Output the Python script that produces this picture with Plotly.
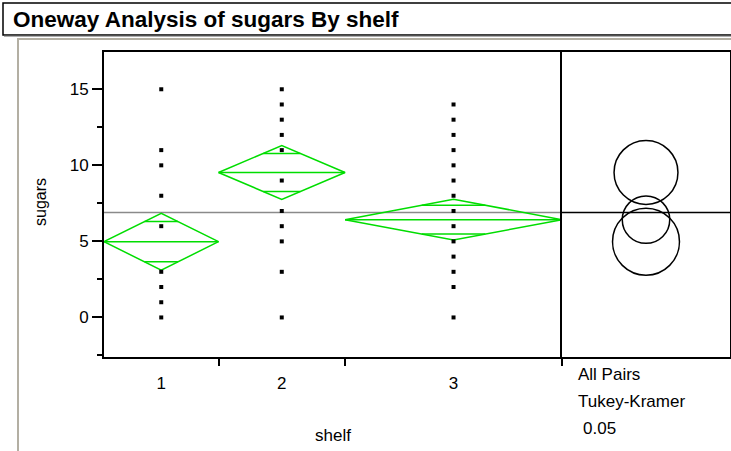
import numpy as np
import plotly.graph_objects as go

# ---- data -------------------------------------------------------------
shelves = ["1", "2", "3"]
n_per_shelf = [19, 21, 36]                      # group sizes set the x widths
sugars_shelf1 = [0, 1, 2, 3, 6, 8, 10, 11, 15]
sugars_shelf2 = [0, 3, 5, 6, 7, 9, 11, 12, 13, 14, 15]
sugars_shelf3 = [0, 2, 3, 4, 5, 6, 7, 8, 9, 10, 11, 12, 13, 14]
group_means = [4.98, 9.53, 6.43]
ci_half_width = [1.87, 1.77, 1.34]              # 95% mean diamonds
tukey_radius = [2.2, 2.1, 1.56]                 # comparison circles
grand_mean = 6.9
y_ticks = [0, 5, 10, 15]
y_minor_ticks = [-2.5, 2.5, 7.5, 12.5]
y_range = [-2.6, 17.45]
circle_notes = ["All Pairs", "Tukey-Kramer", "0.05"]

# ---- page geometry (pixels) -------------------------------------------
W, H = 731, 451
PLOT_L, PLOT_R, PANEL_R = 104, 562, 730
PLOT_T, PLOT_B = 52, 357
FONT = "Liberation Sans, Arial, sans-serif"
GREEN = "#00dd00"


def px_x(x):
    return x / W


def px_y(y):
    return 1 - y / H


bounds = np.concatenate([[0], np.cumsum(n_per_shelf)])
centers = (bounds[:-1] + bounds[1:]) / 2
n_total = bounds[-1]
units_per_px = (y_range[1] - y_range[0]) / (PLOT_B - PLOT_T)
panel_w_units = (PANEL_R - PLOT_R) * units_per_px

fig = go.Figure()

# grand mean reference line
fig.add_trace(go.Scatter(x=[0, n_total], y=[grand_mean, grand_mean], mode="lines",
                         line=dict(color="#8a8a8a", width=1.5), hoverinfo="skip",
                         showlegend=False))

# mean diamonds with overlap marks
for i, (m, h) in enumerate(zip(group_means, ci_half_width)):
    b0, b1, c = bounds[i], bounds[i + 1], centers[i]
    half = (b1 - b0) / 2
    d = h / np.sqrt(2)
    chord = half * (1 - d / h)
    xs = [b0, c, b1, c, b0, None, b0, b1, None,
          c - chord, c + chord, None, c - chord, c + chord]
    ys = [m, m + h, m, m - h, m, None, m, m, None,
          m + d, m + d, None, m - d, m - d]
    fig.add_trace(go.Scatter(x=xs, y=ys, mode="lines",
                             line=dict(color=GREEN, width=1.5),
                             hoverinfo="skip", showlegend=False))

# raw points
for i, vals in enumerate([sugars_shelf1, sugars_shelf2, sugars_shelf3]):
    fig.add_trace(go.Scatter(x=[centers[i]] * len(vals), y=vals, mode="markers",
                             marker=dict(symbol="square", size=4, color="black"),
                             showlegend=False, name=f"shelf {shelves[i]}"))

# axis carrying the group boundary ticks
fig.add_trace(go.Scatter(x=[None], y=[None], xaxis="x3", yaxis="y",
                         showlegend=False, hoverinfo="skip"))
# comparison-circle panel
fig.add_trace(go.Scatter(x=[None], y=[None], xaxis="x2", yaxis="y2",
                         showlegend=False, hoverinfo="skip"))

shapes = []
cx = panel_w_units / 2
for m, r in zip(group_means, tukey_radius):
    shapes.append(dict(type="circle", xref="x2", yref="y2",
                       x0=cx - r, x1=cx + r, y0=m - r, y1=m + r,
                       line=dict(color="black", width=1.5)))
shapes.append(dict(type="line", xref="x2 domain", yref="y2", x0=0, x1=1,
                   y0=grand_mean, y1=grand_mean,
                   line=dict(color="black", width=1.5)))

# report frame: title box and outline bracket
shapes.append(dict(type="rect", xref="paper", yref="paper",
                   x0=px_x(3), x1=px_x(745), y0=px_y(35), y1=px_y(3),
                   line=dict(color="black", width=1.5)))
shapes.append(dict(type="line", xref="paper", yref="paper",
                   x0=px_x(4), x1=px_x(745), y0=px_y(36.3), y1=px_y(36.3),
                   line=dict(color="#9a9a9a", width=1)))
shapes.append(dict(type="path", xref="paper", yref="paper",
                   path=f"M {px_x(18)} {px_y(455)} L {px_x(18)} {px_y(39)} "
                        f"L {px_x(745)} {px_y(39)}",
                   line=dict(color="#b3afa3", width=2)))

annotations = [
    dict(text="<b>Oneway Analysis of sugars By shelf</b>", x=px_x(11),
         y=px_y(19.5), xref="paper", yref="paper", xanchor="left",
         yanchor="middle", showarrow=False,
         font=dict(family=FONT, size=22.5, color="black")),
    dict(text="sugars", x=px_x(40), y=px_y(202), xref="paper", yref="paper",
         textangle=-90, showarrow=False, xanchor="center", yanchor="middle",
         font=dict(family=FONT, size=16, color="black")),
    dict(text="shelf", x=px_x(333), y=px_y(435), xref="paper", yref="paper",
         showarrow=False, xanchor="center", yanchor="middle",
         font=dict(family=FONT, size=17, color="black")),
]
for txt, xx, yy in zip(circle_notes, [576, 576, 581], [374, 401.5, 428]):
    annotations.append(dict(text=txt, x=px_x(xx), y=px_y(yy), xref="paper",
                            yref="paper", xanchor="left", yanchor="middle",
                            showarrow=False,
                            font=dict(family=FONT, size=17, color="black")))

fig.update_layout(
    width=W, height=H, margin=dict(l=0, r=0, t=0, b=0),
    paper_bgcolor="white", plot_bgcolor="white",
    font=dict(family=FONT, color="black"),
    xaxis=dict(domain=[px_x(PLOT_L), px_x(PLOT_R)], range=[0, n_total],
               anchor="y", tickmode="array", tickvals=centers.tolist(),
               ticktext=shelves, ticks="outside", ticklen=10,
               tickcolor="rgba(0,0,0,0)", showline=True, mirror=True,
               linecolor="black", linewidth=2, showgrid=False, zeroline=False,
               tickfont=dict(size=17), automargin=False, fixedrange=True),
    xaxis3=dict(overlaying="x", anchor="y", range=[0, n_total],
                tickmode="array", tickvals=bounds[1:].tolist(), ticks="outside",
                ticklen=8, tickwidth=2, tickcolor="black",
                showticklabels=False, showline=False, showgrid=False,
                zeroline=False, automargin=False),
    yaxis=dict(domain=[px_y(PLOT_B), px_y(PLOT_T)], range=y_range, anchor="x",
               tickmode="array", tickvals=y_ticks, ticks="outside", ticklen=10,
               tickwidth=2, tickcolor="black", showline=True, mirror=False,
               linecolor="black", linewidth=2, showgrid=False, zeroline=False,
               tickfont=dict(size=17), automargin=False,
               minor=dict(tickmode="array", tickvals=y_minor_ticks,
                          ticks="outside", ticklen=5, tickwidth=2,
                          tickcolor="black", showgrid=False)),
    xaxis2=dict(domain=[px_x(PLOT_R), px_x(PANEL_R)], range=[0, panel_w_units],
                anchor="y2", showline=True, mirror=True, linecolor="black",
                linewidth=2, showticklabels=False, ticks="", showgrid=False,
                zeroline=False, automargin=False),
    yaxis2=dict(domain=[px_y(PLOT_B), px_y(PLOT_T)], range=y_range,
                anchor="x2", showline=True, mirror=True, linecolor="black",
                linewidth=2, showticklabels=False, ticks="", showgrid=False,
                zeroline=False, automargin=False),
    shapes=shapes, annotations=annotations, showlegend=False,
)

fig.write_html("out.html")
